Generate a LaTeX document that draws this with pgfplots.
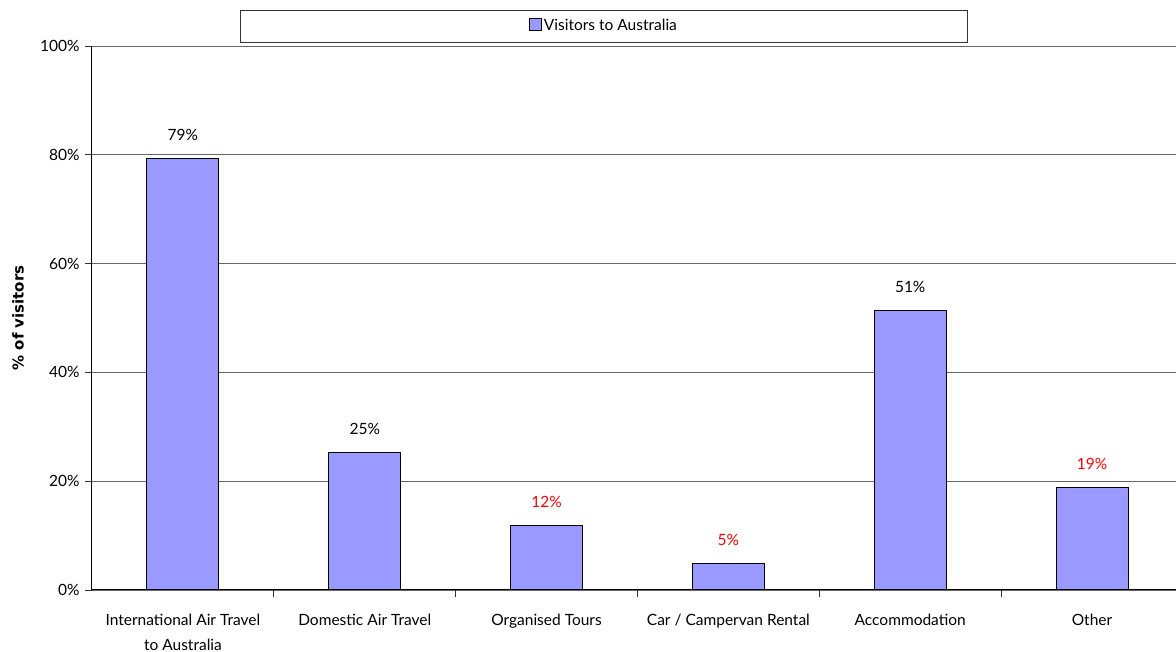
\documentclass[border=0pt]{standalone}
\usepackage{fontspec}
\setmainfont{Lato}
\newfontfamily\labelfont{DejaVu Sans}
\usepackage{pgfplots}
\pgfplotsset{compat=1.18}
\usepackage{pgfplotstable}
\definecolor{barblue}{HTML}{9999FF}
\pgfplotstableread{
x y r
0 79.4 0
1 25.2 0
2 11.9 1
3 4.8 1
4 51.3 0
5 18.9 1
}\datatable
\begin{document}
\begin{tikzpicture}
\useasboundingbox (-92pt,-62pt) rectangle (1084pt,590pt);
\begin{axis}[
 at={(0,0)}, anchor=south west,
 scale only axis, width=1091pt, height=544pt,
 xmin=-0.5, xmax=5.5, ymin=0, ymax=100,
 axis x line*=bottom, axis y line*=left,
 axis line style={black, line width=1pt, -},
 /pgf/number format/assume math mode=true,
 ytick={0,20,...,100},
 yticklabel={\pgfmathprintnumber{\tick}\%},
 yticklabel style={font=\fontsize{15.5}{18}\selectfont, xshift=-2pt},
 ymajorgrids, major grid style={black!60, line width=0.8pt},
 tick align=outside, major tick length=7pt, tick style={black!80, line width=0.8pt},
 xtick={0.5,1.5,2.5,3.5,4.5}, xticklabels={},
 extra x ticks={0,1,2,3,4,5},
 extra x tick labels={{International Air Travel\\to Australia},{Domestic Air Travel},{Organised Tours},{Car / Campervan Rental},{Accommodation},{Other}},
 extra x tick style={major tick length=0pt, grid=none},
 xticklabel style={font=\fontsize{15.5}{25}\selectfont, align=center, yshift=-21pt},
 ylabel={\% of visitors},
 every axis y label/.style={at={(axis description cs:-0.0678,0.5)}, rotate=90, anchor=center, font=\labelfont\bfseries\fontsize{15}{18}\selectfont},
 legend style={at={(0.4693,1.0368)}, anchor=center, draw=black!80, line width=0.8pt, inner xsep=289pt, inner ysep=7.5pt, font=\fontsize{15.5}{18}\selectfont},
 legend image code/.code={\draw[fill=barblue, draw=black, line width=0.8pt] (0pt,-4pt) rectangle (12pt,8pt);},
 clip=false,
]
\addplot[ybar, bar width=72pt, fill=barblue, draw=black, line width=1pt,
 visualization depends on={\thisrow{r} \as \isred},
 nodes near coords={\ifdim\isred pt>0.5pt\color{red}\fi\pgfmathprintnumber[fixed,precision=0]{\pgfplotspointmeta}\%},
 every node near coord/.append style={font=\fontsize{15.5}{18}\selectfont, yshift=14pt, text=black}]
 table[x=x,y=y] {\datatable};
\addlegendentry{Visitors to Australia}
\end{axis}
\end{tikzpicture}
\end{document}
